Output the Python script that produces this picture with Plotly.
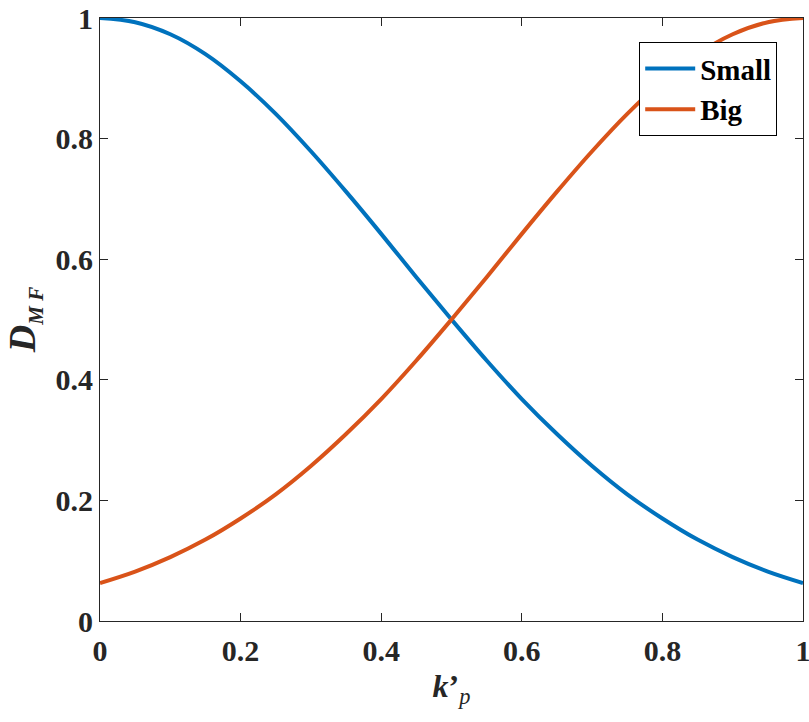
import plotly.graph_objects as go

k_p = [0.00, 0.05, 0.10, 0.15, 0.20, 0.25, 0.30, 0.35, 0.40, 0.45, 0.50,
       0.55, 0.60, 0.65, 0.70, 0.75, 0.80, 0.85, 0.90, 0.95, 1.00]
small = [1.000, 0.993, 0.973, 0.940, 0.895, 0.841, 0.779, 0.712, 0.642, 0.570, 0.500,
         0.432, 0.368, 0.310, 0.257, 0.210, 0.170, 0.135, 0.106, 0.082, 0.063]
big = [0.063, 0.082, 0.106, 0.135, 0.170, 0.210, 0.257, 0.310, 0.368, 0.432, 0.500,
       0.570, 0.642, 0.712, 0.779, 0.841, 0.895, 0.940, 0.973, 0.993, 1.000]
tick_vals = [0, 0.2, 0.4, 0.6, 0.8, 1]
tick_text = ["0", "0.2", "0.4", "0.6", "0.8", "1"]

FONT = "Liberation Serif, Times New Roman, Times, serif"
AX = "#262626"

fig = go.Figure()
fig.add_trace(go.Scatter(x=k_p, y=small, mode="lines", name="Small",
                         line=dict(color="#0072BD", width=4, shape="spline")))
fig.add_trace(go.Scatter(x=k_p, y=big, mode="lines", name="Big",
                         line=dict(color="#D95319", width=4, shape="spline")))

axis_common = dict(
    range=[0, 1], tickvals=tick_vals, ticktext=tick_text, automargin=False,
    showgrid=False, zeroline=False, showline=True, linecolor=AX, linewidth=1,
    mirror="ticks", ticks="inside", ticklen=8, tickcolor=AX, tickwidth=1,
    ticklabeloverflow="allow",
    tickfont=dict(family=FONT, size=30, color=AX, weight="bold"),
)

fig.update_layout(
    width=809, height=722,
    margin=dict(l=100, r=6, t=18, b=101),
    paper_bgcolor="white", plot_bgcolor="white",
    font=dict(family=FONT),
    xaxis=dict(**axis_common, ticklabelstandoff=3,
               title=dict(text="<b><i>k</i></b><b>’</b><sub><i>p</i></sub>",
                          font=dict(family=FONT, size=32, color=AX), standoff=8)),
    yaxis=dict(**axis_common, ticklabelstandoff=0,
               title=dict(text="<b><i>D</i></b><sub><span style='font-size:21px'><b><i>M F</i></b></span></sub>",
                          font=dict(family=FONT, size=38, color=AX), standoff=8)),
    legend=dict(x=0.767, y=0.960, xanchor="left", yanchor="top",
                bgcolor="white", bordercolor="#000000", borderwidth=1,
                font=dict(family=FONT, size=29, color="#000000", weight="bold"),
                itemwidth=50, tracegroupgap=0),
    showlegend=True,
)

fig.write_html("out.html",
               config={"displayModeBar": False},
               post_script="document.body.style.margin='0';document.body.style.overflow='hidden';")
